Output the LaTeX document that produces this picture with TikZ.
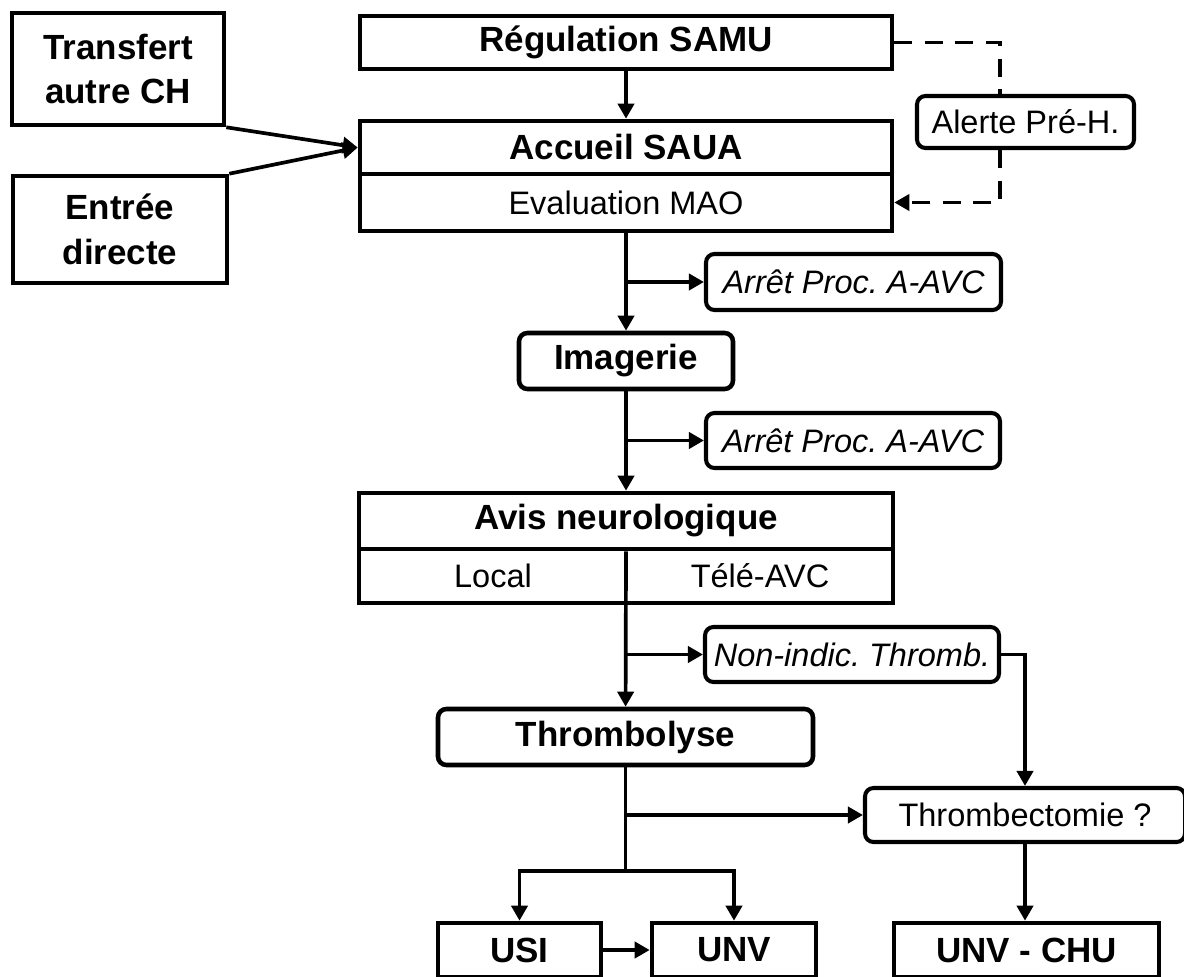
\documentclass[tikz,border=0pt]{standalone}
\usepackage{fontspec}
\setmainfont{Liberation Sans}
\usepackage{tikz}
\usetikzlibrary{positioning, calc, arrows.meta, shapes}
\tikzset{box/.style={draw, line width=2.6pt, inner sep=0pt, minimum height=1.08cm, align=center, font={\bfseries\fontsize{19.9}{25.6}\selectfont}}}
\tikzset{rbox/.style={box, rounded corners=0.17cm}}
\tikzset{plain/.style={font={\fontsize{18.5}{22}\selectfont}}}
\tikzset{rnote/.style={rbox, line width=2.3pt, plain}}
\tikzset{inote/.style={rnote, font={\itshape\fontsize{18.5}{22}\selectfont}}}
\tikzset{ln/.style={draw, line width=2.1pt}}
\tikzset{arr/.style={ln, -{Triangle[length=0.3cm, width=0.32cm]}}}
\tikzset{darr/.style={arr, dash pattern=on 0.36cm off 0.25cm}}
\frenchspacing

\begin{document}
\begin{tikzpicture}
    \useasboundingbox (0,0) rectangle (23.68,-19.52);
    % entrees
    \node[box, minimum width=4.24cm, minimum height=2.24cm] (transf) at (2.36,-1.38) {Transfert\\autre CH};
    \node[box, minimum width=4.28cm, minimum height=2.14cm] (entree) at (2.40,-4.59) {Entrée\\directe};
    \node[box, minimum width=10.64cm, minimum height=1.06cm] (regul) at (12.52,-0.85) {Régulation SAMU};
    \node[box, minimum width=10.64cm, minimum height=1.06cm] (accueil) at (12.52,-2.95) {Accueil SAUA};
    \node[box, plain, minimum width=10.64cm, minimum height=1.14cm] (mao) at (12.52,-4.05) {Evaluation MAO};
    \node[rnote, minimum width=4.34cm, minimum height=1.04cm] (alerte) at (20.51,-2.44) {Alerte Pré-H.};
    \coordinate (dsh) at (20.0,0);
    % colonne centrale
    \node[rbox, minimum width=4.28cm, minimum height=1.12cm] (imag) at (12.52,-7.22) {Imagerie};
    \node[inote, minimum width=5.9cm, minimum height=1.12cm] (stopa) at (17.07,-5.64) {Arrêt Proc. A-AVC};
    \node[inote, minimum width=5.88cm, minimum height=1.1cm] (stopb) at (17.06,-8.81) {Arrêt Proc. A-AVC};
    \node[box, minimum width=10.68cm, minimum height=1.12cm] (avis) at (12.52,-10.42) {Avis neurologique};
    \node[box, minimum width=10.68cm, minimum height=1.08cm] (avisb) at (12.52,-11.52) {};
    \node[plain] (local) at (9.86,-11.52) {Local};
    \node[plain] (tele) at (15.20,-11.52) {Télé-AVC};
    \node[inote, minimum width=5.88cm, minimum height=1.1cm] (nonind) at (17.04,-13.09) {Non-indic. Thromb.};
    \node[rbox, minimum width=7.5cm, minimum height=1.12cm] (throm) at (12.51,-14.74) {Thrombolyse};
    \node[rnote, minimum width=6.4cm, minimum height=1.08cm] (tbect) at (20.50,-16.30) {Thrombectomie ?};
    % sorties
    \node[box, minimum width=3.26cm] (usi) at (10.39,-19.0) {USI};
    \node[box, minimum width=3.28cm] (unv) at (14.68,-19.0) {UNV};
    \node[box, minimum width=5.3cm] (unvchu) at (20.53,-19.0) {UNV - CHU};
    \coordinate (split) at ([yshift=-2.08cm]throm.south);

    \draw[arr] (regul) -- (accueil);
    \draw[arr] (transf.south east) -- (accueil.west);
    \draw[arr] (entree.north east) -- (accueil.west);
    \draw[ln, dash pattern=on 0.36cm off 0.25cm] (regul.east) -| (dsh |- alerte.north);
    \draw[darr] (dsh |- alerte.south) |- (mao.east);
    \draw[arr] (mao) -- (imag);
    \draw[arr] (mao.south |- stopa.west) -- (stopa);
    \draw[arr] (imag) -- (avis);
    \draw[arr] (imag.south |- stopb.west) -- (stopb);
    \draw[arr] (avis.south) -- (throm);
    \draw[arr] (avis.south |- nonind.west) -- (nonind);
    \draw[arr] (nonind.east) -| (tbect.north);
    \draw[arr] (throm.south |- tbect.west) -- (tbect);
    \draw[ln] (throm.south) -- (split);
    \draw[arr] (split) -| (usi.north);
    \draw[arr] (split) -| (unv.north);
    \draw[arr] (usi) -- (unv);
    \draw[arr] (tbect.south) -- (tbect.south |- unvchu.north);
\end{tikzpicture}
\end{document}
